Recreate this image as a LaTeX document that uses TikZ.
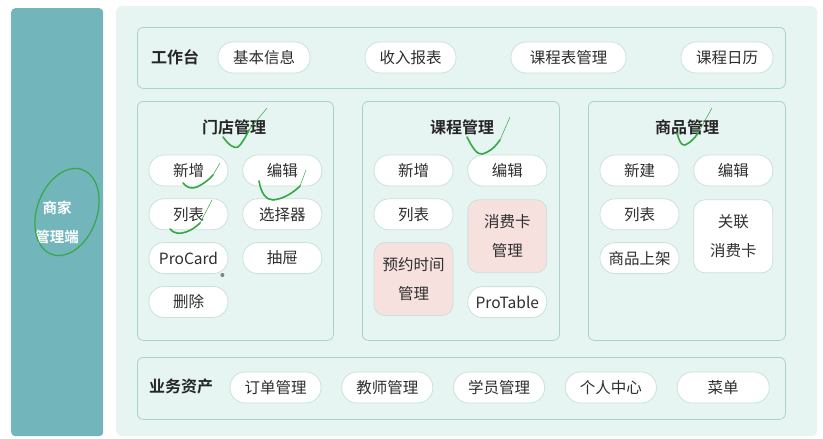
\documentclass[tikz,border=0pt]{standalone}
\usepackage{fontspec}
\setmainfont{Noto Sans CJK SC}[BoldFont={Noto Sans CJK SC Bold}]
\usetikzlibrary{positioning, calc}

\definecolor{sidebar}{HTML}{72B6BC}
\definecolor{mint}{HTML}{E6F5F1}
\definecolor{boxline}{HTML}{A9D3C9}
\definecolor{pillline}{HTML}{C9E2DB}
\definecolor{pinkfill}{HTML}{F6E1DF}
\definecolor{ink}{HTML}{2E2E2E}
\definecolor{tick}{HTML}{35A843}

\begin{document}
\begin{tikzpicture}[
    x=1pt, y=-1pt,
    panel/.style={draw=boxline, fill=mint, rounded corners=6pt, line width=0.8pt, anchor=north west, inner sep=0pt},
    pill/.style={draw=pillline, fill=white, rounded corners=15pt, line width=0.8pt, minimum height=31pt, minimum width=79pt, inner sep=0pt, font=\fontsize{15.5}{17}\selectfont, text=ink},
    pinkbox/.style={pill, fill=pinkfill, rounded corners=11pt, minimum height=73pt, align=center, font=\fontsize{15.5}{29}\selectfont},
    title/.style={font=\fontsize{16}{18}\selectfont\bfseries, text=black!85},
    sidetext/.style={font=\fontsize{14.5}{16}\selectfont\bfseries, text=white},
    check/.style={draw=tick, line width=1.6pt, line cap=round},
    stroke/.style={draw=tick, line width=0.5pt, line cap=round}
  ]
  \useasboundingbox (0,0) rectangle (823,439);
  \fill[white] (0,0) rectangle (823,439);

  % --- sidebar ---
  \node[fill=sidebar, rounded corners=4pt, anchor=north west, minimum width=92pt, minimum height=428pt, inner sep=0pt] (side) at (11,8) {};
  \node[sidetext] (side-a) at (57,208) {商家};
  \node[sidetext] (side-b) at (57,237) {管理端};

  % --- main panel ---
  \node[fill=mint, rounded corners=6pt, anchor=north west, minimum width=701pt, minimum height=430pt, inner sep=0pt] (main) at (116,6) {};

  % --- workbench ---
  \node[panel, minimum width=648pt, minimum height=61pt] (work) at (137,27) {};
  \node[title] (work-t) at (175,57) {工作台};
  \node[pill, minimum width=92pt]  (w-info)  at (264,57.5) {基本信息};
  \node[pill, minimum width=91pt]  (w-rep)   at (410.5,57.5) {收入报表};
  \node[pill, minimum width=115pt] (w-sched) at (568.5,57.5) {课程表管理};
  \node[pill, minimum width=92pt]  (w-cal)   at (727,57.5) {课程日历};

  % --- store ---
  \node[panel, minimum width=196pt, minimum height=239pt] (store) at (137,101) {};
  \node[title] (store-t) at (234,127) {门店管理};
  \node[pill] (s-add) at (188.5,170.5) {新增};
  \node[pill, right=14pt of s-add]  (s-edit) {编辑};
  \node[pill, below=12pt of s-add]  (s-list) {列表};
  \node[pill, right=14pt of s-list] (s-sel)  {选择器};
  \node[pill, below=12pt of s-list] (s-card) {ProCard};
  \node[pill, right=14pt of s-card] (s-draw) {抽屉};
  \node[pill, below=12pt of s-card] (s-del)  {删除};
  \fill[gray] (s-card.south east) ++(-6,1) circle (2pt);

  % --- course ---
  \node[panel, minimum width=197pt, minimum height=239pt] (course) at (362,101) {};
  \node[title] (course-t) at (462,127) {课程管理};
  \node[pill] (c-add) at (413.5,170.5) {新增};
  \node[pill, right=14pt of c-add]  (c-edit) {编辑};
  \node[pill, below=12pt of c-add]  (c-list) {列表};
  \node[pinkbox, below=13pt of c-edit] (c-cardm) {消费卡\\管理};
  \node[pinkbox, below=12pt of c-list] (c-time)  {预约时间\\管理};
  \node[pill, below=13pt of c-cardm] (c-table) {ProTable};

  % --- goods ---
  \node[panel, minimum width=197pt, minimum height=239pt] (goods) at (588,101) {};
  \node[title] (goods-t) at (687,127) {商品管理};
  \node[pill] (g-new) at (639.5,170.5) {新建};
  \node[pill, right=14pt of g-new]  (g-edit) {编辑};
  \node[pill, below=12pt of g-new]  (g-list) {列表};
  \node[pinkbox, fill=white, below=13pt of g-edit] (g-link) {关联\\消费卡};
  \node[pill, below=12pt of g-list] (g-shelf) {商品上架};

  % --- assets ---
  \node[panel, minimum width=648pt, minimum height=62pt] (asset) at (137,357) {};
  \node[title] (asset-t) at (181,386) {业务资产};
  \node[pill, minimum width=91pt] (a-order) at (275.5,387.5) {订单管理};
  \node[pill, minimum width=91pt, right=20pt of a-order]   (a-teach) {教师管理};
  \node[pill, minimum width=91pt, right=20pt of a-teach]   (a-stud)  {学员管理};
  \node[pill, minimum width=91pt, right=20pt of a-stud]    (a-me)    {个人中心};
  \node[pill, minimum width=92pt, right=20pt of a-me]      (a-menu)  {菜单};

  % --- hand marks ---
  \draw[check, line width=1.2pt] (67,212) ellipse [x radius=30, y radius=45, rotate=-20];
  \draw[check] (223,137) .. controls (229,145) and (234,149) .. (238,147) .. controls (242,144) and (246,136) .. (249,130);
  \draw[stroke] (249,130) -- (267,108);
  \draw[check] (183,183) .. controls (187,188) and (192,189) .. (197,187) .. controls (203,184) and (209,180) .. (213,175);
  \draw[stroke] (213,175) -- (220,163);
  \draw[check] (259,181) .. controls (261,193) and (266,200) .. (273,200) .. controls (284,199) and (294,192) .. (300,186);
  \draw[stroke] (300,186) -- (306,170);
  \draw[check] (170,229) .. controls (174,234) and (180,234) .. (186,232) .. controls (192,230) and (197,226) .. (200,223);
  \draw[stroke] (200,223) -- (212,200);
  \draw[check] (467,137) .. controls (472,147) and (477,155) .. (482,154) .. controls (490,152) and (496,146) .. (500,140);
  \draw[stroke] (500,140) -- (510,117);
  \draw[check] (677,133) .. controls (679,140) and (681,146) .. (685,145) .. controls (690,143) and (695,138) .. (698,133);
  \draw[stroke] (698,133) -- (712,108);
\end{tikzpicture}
\end{document}
